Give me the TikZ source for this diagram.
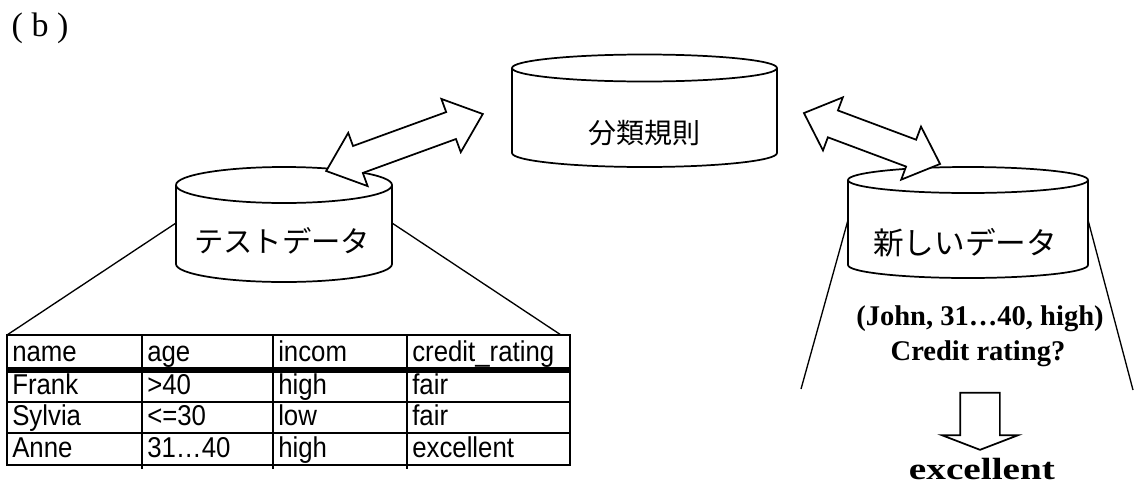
\documentclass[tikz,border=0pt]{standalone}
\usepackage{fontspec}
\usepackage{graphicx}
\setmainfont{Liberation Serif}
\setsansfont{Liberation Sans}
\newfontfamily\jpfont{Noto Sans CJK JP}
\usetikzlibrary{shapes.arrows}

\newcommand{\narrow}[1]{\scalebox{0.9}[1]{#1}}

\tikzset{
	cyl/.style={draw,line width=1.3pt,fill=white},
	jplabel/.style={inner sep=0,font=\jpfont\fontsize{23}{27}\selectfont},
	cell/.style={anchor=base west,inner sep=0,font=\sffamily\fontsize{21.5}{25}\selectfont},
	answer/.style={inner sep=0,font=\bfseries\fontsize{21.4}{25}\selectfont},
	blockarrow/.style={draw,line width=1.3pt,fill=white,inner xsep=0},
	zoomline/.style={line width=1pt},
}

\begin{document}
\begin{tikzpicture}[x=0.75pt,y=-0.75pt]
	\useasboundingbox (0,0) rectangle (1134,486);
	\node[inner sep=0,font=\fontsize{25.5}{30}\selectfont] (panel) at (40,28) {( b )};

	\coordinate (test-l) at (176,223);
	\coordinate (test-r) at (392,223);
	\coordinate (table-l) at (7,335);
	\coordinate (table-r) at (561,335);
	\coordinate (new-l) at (848,220);
	\coordinate (new-r) at (1088,220);
	\coordinate (query-l) at (801,389);
	\coordinate (query-r) at (1133,390);
	\draw[zoomline] (test-l) -- (table-l);
	\draw[zoomline] (test-r) -- (table-r);
	\draw[zoomline] (new-l) -- (query-l);
	\draw[zoomline] (new-r) -- (query-r);

	\draw[cyl] (512,68) -- (512,153) arc[start angle=180,end angle=0,x radius=132.5,y radius=14] -- (777,68);
	\draw[cyl] (644.5,68) ellipse[x radius=132.5,y radius=13.5];
	\node[jplabel,font=\jpfont\fontsize{21}{25}\selectfont] (rules) at (644,133) {分類規則};

	\draw[cyl] (176,185) -- (176,264) arc[start angle=180,end angle=0,x radius=108,y radius=18] -- (392,185);
	\draw[cyl] (284,185) ellipse[x radius=108,y radius=18];
	\node[jplabel,font=\jpfont\fontsize{22}{26}\selectfont] (testdata) at (282,241) {テストデータ};

	\draw[cyl] (848,180) -- (848,265) arc[start angle=180,end angle=0,x radius=120,y radius=13] -- (1088,180);
	\draw[cyl] (968,180) ellipse[x radius=120,y radius=13];
	\node[jplabel] (newdata) at (965,243) {新しいデータ};

	\node[blockarrow,double arrow,rotate=20,inner ysep=10.1pt,minimum height=125pt,
		double arrow head extend=10.5pt,double arrow tip angle=80] (learn) at (404.5,142.5) {};
	\node[blockarrow,double arrow,rotate=-20.5,inner ysep=10.1pt,minimum height=109pt,
		double arrow head extend=10.5pt,double arrow tip angle=85] (apply) at (872,138.5) {};

	\draw[line width=2.2pt] (7,335) rectangle (570,465);
	\foreach \x in {142,273,407}
		\draw[line width=2.2pt] (\x,335) -- (\x,469);
	\draw[line width=4pt] (7,370) -- (570,370);
	\foreach \y in {402,433}
		\draw[line width=2pt] (7,\y) -- (570,\y);
	\foreach \y/\a/\b/\c/\d [count=\r] in {361/name/age/incom/credit\_rating,394/Frank/>40/high/fair,
		425/Sylvia/<=30/low/fair,457/Anne/31…40/high/excellent} {
		\node[cell] (c\r-1) at (12,\y) {\narrow{\a}};
		\node[cell] (c\r-2) at (147,\y) {\narrow{\b}};
		\node[cell] (c\r-3) at (278,\y) {\narrow{\c}};
		\node[cell] (c\r-4) at (412,\y) {\narrow{\d}};
	}

	\node[answer] (query) at (980,319) {(John, 31…40, high)};
	\node[answer] (question) at (978,354) {Credit rating?};
	\node[blockarrow,single arrow,rotate=-90,inner ysep=14.25pt,minimum height=42.75pt,
		single arrow head extend=13.5pt,single arrow tip angle=138] (down) at (980,417.5) {};
	\node[answer,font=\bfseries\fontsize{23}{27}\selectfont] (result) at (982,469) {\scalebox{1.28}[1]{excellent}};
\end{tikzpicture}
\end{document}
